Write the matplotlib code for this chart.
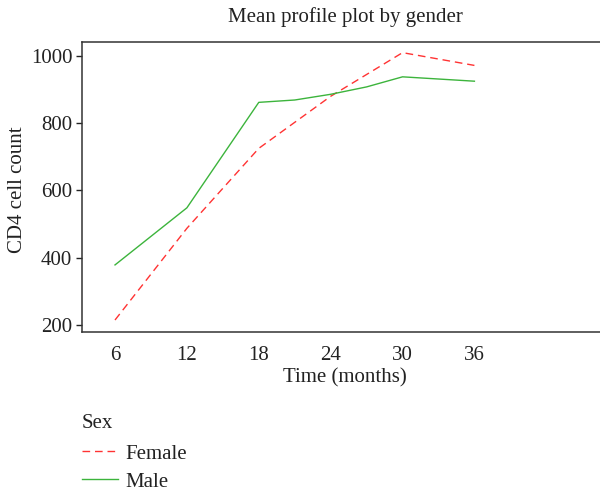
import matplotlib
matplotlib.use("Agg")
import matplotlib.pyplot as plt

# Data
female_months = [6, 12, 18, 24, 30, 36]
female_cd4 = [214, 487, 725, 880, 1010, 972]
male_months = [6, 12, 18, 21, 24, 27, 30, 36]
male_cd4 = [378, 548, 862, 869, 886, 908, 938, 925]
x_ticks = [6, 12, 18, 24, 30, 36]
y_ticks = [200, 400, 600, 800, 1000]

plt.rcParams['font.family'] = ['Liberation Serif', 'DejaVu Serif']
FS = 15

fig = plt.figure(figsize=(6.0, 4.92), dpi=100)
ax = fig.add_axes([82/600, 1-331.7/492, 526/600, (331.7-42)/492])

ax.plot(female_months, female_cd4, color='#ff3333', lw=1.0, ls=(0, (5.5, 3.5)), label='Female')
ax.plot(male_months, male_cd4, color='#3cb43c', lw=1.0, ls='-', label='Male')

ax.set_xlim(3.245, 47.15)
ax.set_ylim(179.2, 1041.7)
ax.set_xticks(x_ticks)
ax.set_yticks(y_ticks)
ax.tick_params(axis='x', length=0, pad=10, labelsize=FS, colors='#222222')
ax.tick_params(axis='y', length=4, width=1, pad=3, labelsize=FS, colors='#222222', direction='out')
for s in ['left', 'top', 'bottom']:
    ax.spines[s].set_color('#333333')
    ax.spines[s].set_linewidth(1.1)
ax.spines['right'].set_visible(False)

fig.text(345/600, 1-17/492, 'Mean profile plot by gender', ha='center', va='center',
         fontsize=FS, color='#222222')
fig.text(345/600, 1-378/492, 'Time (months)', ha='center', va='center',
         fontsize=FS, color='#222222')
fig.text(18/600, 1-190/492, 'CD4 cell count', ha='center', va='center', rotation=90,
         fontsize=FS, color='#222222')

leg = fig.legend(loc='upper left', bbox_to_anchor=(82/600, 1-414/492), frameon=False,
                 title='Sex', fontsize=FS, title_fontsize=FS, alignment='left',
                 handlelength=1.75, handletextpad=0.35, labelspacing=0.4, borderpad=0,
                 borderaxespad=0)
leg._legend_box.sep = 8
for t in leg.get_texts():
    t.set_color('#222222')
leg.get_title().set_color('#222222')

fig.savefig('out.png', dpi=100)
